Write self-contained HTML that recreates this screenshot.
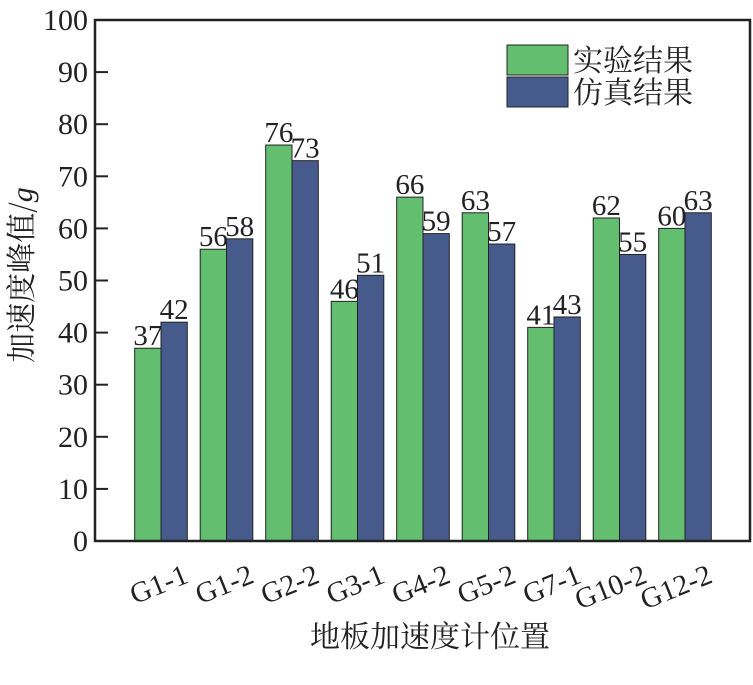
<!DOCTYPE html>
<html><head><meta charset="utf-8"><style>html,body{margin:0;padding:0;background:#fff}svg{display:block}</style></head>
<body>
<svg width="753" height="685" viewBox="0 0 753 685" xmlns="http://www.w3.org/2000/svg" font-family="'Liberation Serif', 'Noto Serif CJK SC', serif">
<g stroke="#222" stroke-width="1">
<rect x="134.7" y="348.23" width="26.3" height="192.77" fill="#63bf6f"/><rect x="161" y="322.18" width="26.3" height="218.82" fill="#465a8b"/>
<rect x="200.2" y="249.24" width="26.3" height="291.76" fill="#63bf6f"/><rect x="226.5" y="238.82" width="26.3" height="302.18" fill="#465a8b"/>
<rect x="265.7" y="145.04" width="26.3" height="395.96" fill="#63bf6f"/><rect x="292" y="160.67" width="26.3" height="380.33" fill="#465a8b"/>
<rect x="331.2" y="301.34" width="26.3" height="239.66" fill="#63bf6f"/><rect x="357.5" y="275.29" width="26.3" height="265.71" fill="#465a8b"/>
<rect x="396.7" y="197.14" width="26.3" height="343.86" fill="#63bf6f"/><rect x="423" y="233.61" width="26.3" height="307.39" fill="#465a8b"/>
<rect x="462.2" y="212.77" width="26.3" height="328.23" fill="#63bf6f"/><rect x="488.5" y="244.03" width="26.3" height="296.97" fill="#465a8b"/>
<rect x="527.7" y="327.39" width="26.3" height="213.61" fill="#63bf6f"/><rect x="554" y="316.97" width="26.3" height="224.03" fill="#465a8b"/>
<rect x="593.2" y="217.98" width="26.3" height="323.02" fill="#63bf6f"/><rect x="619.5" y="254.45" width="26.3" height="286.55" fill="#465a8b"/>
<rect x="658.7" y="228.4" width="26.3" height="312.6" fill="#63bf6f"/><rect x="685" y="212.77" width="26.3" height="328.23" fill="#465a8b"/>
</g>
<g font-size="29" text-anchor="middle" fill="#222">
<text x="147.85" y="345.2">37</text><text x="174.15" y="319.2">42</text>
<text x="213.35" y="246.2">56</text><text x="239.65" y="235.8">58</text>
<text x="278.85" y="142">76</text><text x="305.15" y="157.7">73</text>
<text x="344.35" y="298.3">46</text><text x="370.65" y="272.3">51</text>
<text x="409.85" y="194.1">66</text><text x="436.15" y="230.6">59</text>
<text x="475.35" y="209.8">63</text><text x="501.65" y="241">57</text>
<text x="540.85" y="324.4">41</text><text x="567.15" y="314">43</text>
<text x="606.35" y="215">62</text><text x="632.65" y="251.4">55</text>
<text x="671.85" y="225.4">60</text><text x="698.15" y="209.8">63</text>
</g>
<g font-size="29" text-anchor="end" fill="#222">
<text x="190" y="582" transform="rotate(-22 190 582)">G1-1</text>
<text x="255.5" y="582" transform="rotate(-22 255.5 582)">G1-2</text>
<text x="321" y="582" transform="rotate(-22 321 582)">G2-2</text>
<text x="386.5" y="582" transform="rotate(-22 386.5 582)">G3-1</text>
<text x="452" y="582" transform="rotate(-22 452 582)">G4-2</text>
<text x="517.5" y="582" transform="rotate(-22 517.5 582)">G5-2</text>
<text x="583" y="582" transform="rotate(-22 583 582)">G7-1</text>
<text x="648.5" y="582" transform="rotate(-22 648.5 582)">G10-2</text>
<text x="714" y="582" transform="rotate(-22 714 582)">G12-2</text>
</g>
<g stroke="#222" stroke-width="2">
<line x1="95" x2="108" y1="541" y2="541"/><line x1="95" x2="108" y1="488.9" y2="488.9"/><line x1="95" x2="108" y1="436.8" y2="436.8"/><line x1="95" x2="108" y1="384.7" y2="384.7"/><line x1="95" x2="108" y1="332.6" y2="332.6"/><line x1="95" x2="108" y1="280.5" y2="280.5"/><line x1="95" x2="108" y1="228.4" y2="228.4"/><line x1="95" x2="108" y1="176.3" y2="176.3"/><line x1="95" x2="108" y1="124.2" y2="124.2"/><line x1="95" x2="108" y1="72.1" y2="72.1"/><line x1="95" x2="108" y1="20" y2="20"/>
</g>
<g font-size="30" text-anchor="end" fill="#222">
<text x="88" y="551">0</text><text x="88" y="498.9">10</text><text x="88" y="446.8">20</text><text x="88" y="394.7">30</text><text x="88" y="342.6">40</text><text x="88" y="290.5">50</text><text x="88" y="238.4">60</text><text x="88" y="186.3">70</text><text x="88" y="134.2">80</text><text x="88" y="82.1">90</text><text x="88" y="30">100</text>
</g>
<rect x="95" y="20" width="655" height="521" fill="none" stroke="#222" stroke-width="2.5"/>
<rect x="507" y="45" width="61" height="30" fill="#63bf6f" stroke="#222" stroke-width="1"/>
<rect x="507" y="77" width="61" height="30" fill="#465a8b" stroke="#222" stroke-width="1"/>
<text x="573" y="71" font-size="30" fill="#222" font-family="'Noto Serif CJK SC', serif">实验结果</text>
<text x="573" y="103" font-size="30" fill="#222" font-family="'Noto Serif CJK SC', serif">仿真结果</text>
<text x="430" y="647" font-size="30" fill="#222" text-anchor="middle" font-family="'Noto Serif CJK SC', serif">地板加速度计位置</text>
<text transform="translate(32 275) rotate(-90)" font-size="30" fill="#222" text-anchor="middle"><tspan font-family="'Noto Serif CJK SC', serif">加速度峰值/</tspan><tspan font-style="italic" font-family="'Liberation Serif', serif">g</tspan></text>
</svg>
</body></html>
